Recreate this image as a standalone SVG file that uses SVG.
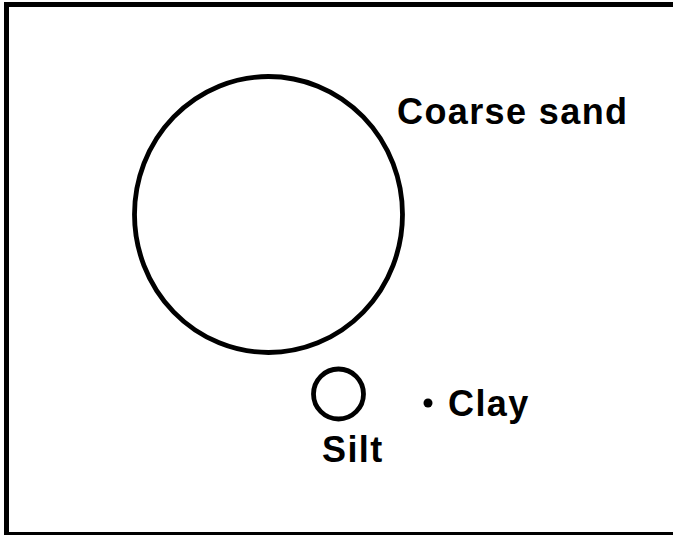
<svg xmlns="http://www.w3.org/2000/svg" width="673" height="535" viewBox="0 0 673 535">
<style>
.lbl{font-family:"Liberation Sans",Arial,sans-serif;font-weight:bold;font-size:36px;letter-spacing:1.4px;fill:#000}
.ring{fill:none;stroke:#000;stroke-width:4.8}
</style>
<rect x="0" y="0" width="673" height="535" fill="#fff"/>
<rect x="6.5" y="4.5" width="700" height="530" fill="none" stroke="#000" stroke-width="5"/>
<g id="coarse-sand">
<ellipse class="ring" cx="268.5" cy="214.5" rx="134" ry="138"/>
<text class="lbl" x="397" y="124">Coarse sand</text>
</g>
<g id="silt">
<circle class="ring" cx="338.5" cy="394" r="25"/>
<text class="lbl" x="322" y="462">Silt</text>
</g>
<g id="clay">
<circle cx="428" cy="403" r="4.5" fill="#000"/>
<text class="lbl" x="448" y="416">Clay</text>
</g>
<g id="connectors"/>
</svg>
